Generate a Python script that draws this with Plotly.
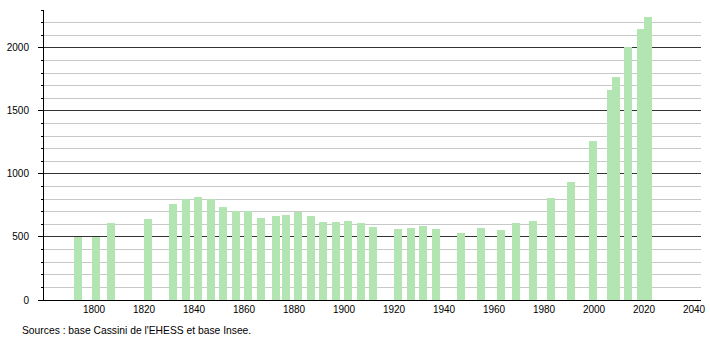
import plotly.graph_objects as go

years = [1793, 1800, 1806, 1821, 1831, 1836, 1841, 1846, 1851, 1856, 1861, 1866,
         1872, 1876, 1881, 1886, 1891, 1896, 1901, 1906, 1911, 1921, 1926, 1931,
         1936, 1946, 1954, 1962, 1968, 1975, 1982, 1990, 1999, 2006, 2008, 2013,
         2018, 2021]
population = [497, 497, 612, 642, 761, 801, 815, 801, 738, 706, 706, 650,
              666, 674, 698, 666, 618, 618, 626, 610, 578, 562, 570, 589,
              562, 533, 570, 554, 612, 626, 809, 937, 1260, 1663, 1770, 2010,
              2153, 2241]
x_ticks = list(range(1800, 2041, 20))
y_ticks = [0, 500, 1000, 1500, 2000]
source_text = "Sources : base Cassini de l'EHESS et base Insee."

fig = go.Figure()
fig.add_trace(go.Bar(
    x=years, y=population,
    width=3.2, offset=-1.0,
    marker=dict(color="#b2e5b2", line=dict(width=0)),
    hoverinfo="x+y",
))

font = dict(family="Liberation Sans, Arial, sans-serif", size=10, color="#000")
src_font = dict(family="Liberation Sans, Arial, sans-serif", size=10.3, color="#000")

fig.update_layout(
    width=710, height=340,
    autosize=False,
    margin=dict(l=44, r=9, t=10, b=40, autoexpand=False),
    paper_bgcolor="white", plot_bgcolor="white",
    showlegend=False,
    font=font,
    bargap=0,
    xaxis=dict(
        range=[1780, 2042.8],
        tickmode="array", tickvals=x_ticks,
        showgrid=False, zeroline=False,
        showline=True, linecolor="#000", linewidth=1,
        ticks="", tickfont=font,
        automargin=False,
        fixedrange=True,
    ),
    yaxis=dict(
        range=[0, 2300],
        tickmode="array", tickvals=y_ticks,
        showgrid=True, gridcolor="#333333", gridwidth=1,
        zeroline=False,
        showline=True, linecolor="#000", linewidth=1,
        ticks="outside", ticklen=5, tickcolor="#000", tickwidth=1,
        ticklabelstandoff=7,
        tickfont=font,
        automargin=False,
        minor=dict(dtick=100, showgrid=True, gridcolor="#c8c8c8", gridwidth=1,
                   ticks="outside", ticklen=2, tickcolor="#000", tickwidth=1),
        fixedrange=True,
    ),
    annotations=[dict(
        text=source_text, xref="paper", yref="paper",
        x=-24/657, y=-30/290, xanchor="left", yanchor="middle",
        showarrow=False, font=src_font,
    )],
)

fig.write_html("out.html")
